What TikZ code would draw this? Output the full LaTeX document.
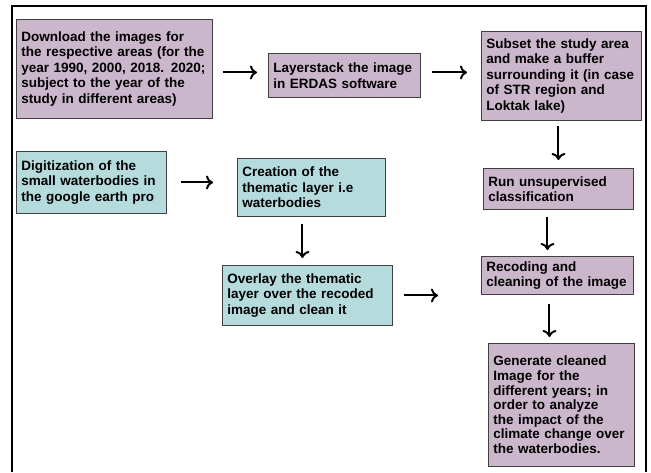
\documentclass[tikz,border=0pt]{standalone}
\usepackage{fontspec}
\setmainfont{Liberation Sans}
\usetikzlibrary{arrows.meta}
\definecolor{boxpurple}{RGB}{203,183,203}
\definecolor{boxblue}{RGB}{182,219,221}
\newcommand\myNoHyph{\hyphenpenalty=10000\relax}
\tikzset{
  box/.style={draw=black!75, line width=0.9pt, anchor=north west, inner xsep=5pt, inner ysep=3pt,
    align=left, font=\bfseries\fontsize{13.5}{15.5}\selectfont\myNoHyph, text=black},
  pbox/.style={box, fill=boxpurple},
  bbox/.style={box, fill=boxblue},
  arr/.style={line width=2pt, -{To[length=7pt,width=14pt]}}
}
\begin{document}
\begin{tikzpicture}[x=1pt,y=-1pt]
\useasboundingbox (0,0) rectangle (651,472);
\fill[white] (0,0) rectangle (651,472);
% outer frame (bottom edge not shown)
\draw[line width=1.6pt] (12,472) -- (12,6) -- (646,6) -- (646,472);

\node[pbox, text width=186pt, minimum width=196pt, minimum height=99pt] (dl) at (16,19)
 {\makebox[\linewidth][s]{Download the images for}\\
  \makebox[\linewidth][s]{the respective areas (for the}\\
  \makebox[\linewidth][s]{year 1990, 2000, 2018. 2020;}\\
  \makebox[\linewidth][s]{subject to the year of the}\\
  study in different areas)};
\node[pbox, text width=142pt, minimum width=152pt, minimum height=44pt] (ls) at (268,53)
 {Layerstack the image\\ in ERDAS software};
\node[pbox, text width=150pt, minimum width=160pt, minimum height=89pt] (ss) at (481,31)
 {Subset the study area\\ and make a buffer\\ surrounding it (in case\\ of STR region and\\ Loktak lake)};
\node[bbox, text width=140pt, minimum width=150pt, minimum height=62pt] (dg) at (16,151)
 {Digitization of the\\ small waterbodies in\\ the google earth pro};
\node[bbox, text width=138pt, minimum width=148pt, minimum height=58pt] (cr) at (237,158)
 {Creation of the\\ thematic layer i.e\\ waterbodies};
\node[bbox, text width=160pt, minimum width=170pt, minimum height=60pt] (ov) at (222,265)
 {Overlay the thematic\\ layer over the recoded\\ image and clean it};
\node[pbox, text width=140pt, minimum width=150pt, minimum height=41pt] (run) at (483,168)
 {Run unsupervised\\ classification};
\node[pbox, text width=142pt, minimum width=152pt, minimum height=38pt] (rc) at (481,256)
 {Recoding and\\ cleaning of the image};
\node[pbox, text width=136pt, minimum width=146pt, minimum height=123pt,
      font=\bfseries\fontsize{13.5}{14.6}\selectfont\myNoHyph] (gen) at (488,343)
 {Generate cleaned\\ Image for the\\ different years; in\\ order to analyze\\ the impact of the\\ climate change over\\ the waterbodies.};

% connectors
\draw[arr, shorten <=10pt, shorten >=11pt] ([yshift=3pt]ls.west -| dl.east) -- ([yshift=3pt]ls.west);
\draw[arr, shorten <=11pt, shorten >=14pt] ([yshift=3pt]ls.east) -- ([yshift=3pt]ls.east -| ss.west);
\draw[arr, shorten <=5pt, shorten >=8pt] (ss.south -| run.north) -- (run.north);
\draw[arr, shorten <=14pt, shorten >=24pt] (dg.east) -- (dg.east -| cr.west);
\draw[arr, shorten <=7pt, shorten >=7pt] ([xshift=-9pt]cr.south) -- ([xshift=-9pt]cr.south |- ov.north);
\draw[arr, shorten <=11pt, shorten >=43pt] (ov.east) -- (ov.east -| rc.west);
\draw[arr, shorten <=7pt, shorten >=6pt] ([xshift=-11pt]run.south) -- ([xshift=-11pt]run.south |- rc.north);
\draw[arr, shorten <=9pt, shorten >=6pt] ([xshift=-12pt]gen.north |- rc.south) -- ([xshift=-12pt]gen.north);
\end{tikzpicture}
\end{document}
